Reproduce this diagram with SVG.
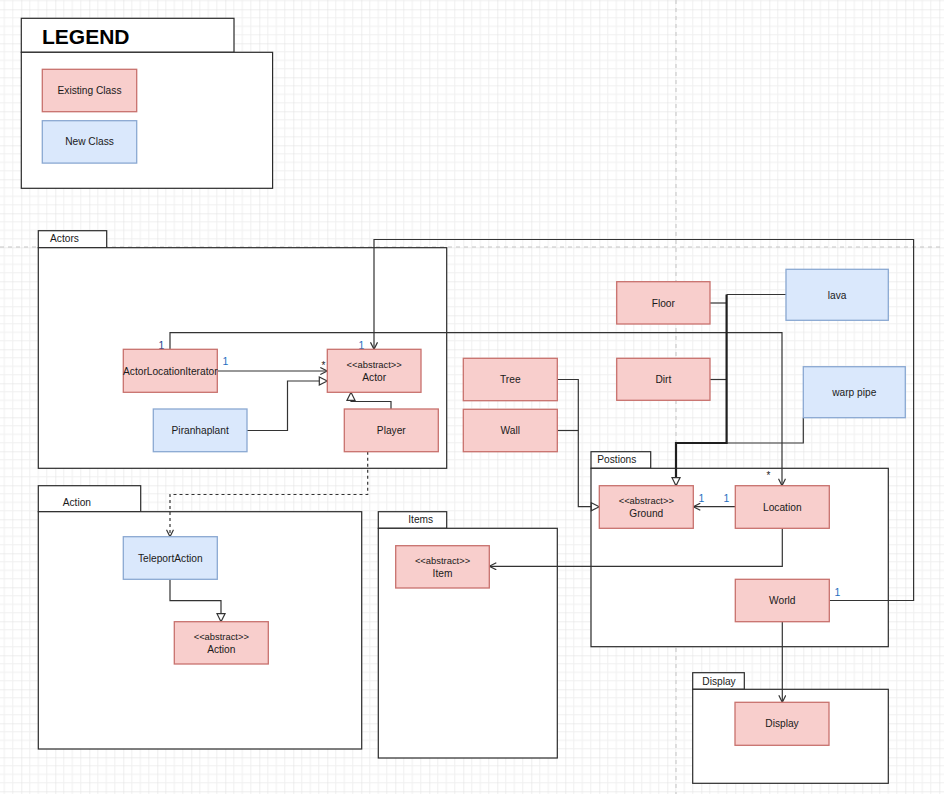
<svg xmlns="http://www.w3.org/2000/svg" width="944" height="794" viewBox="0 0 944 794">
  <style>
    text { font-family: "Liberation Sans", Arial, sans-serif; font-size: 10.2px; fill: #1a1a1a; }
    .c { text-anchor: middle; }
    .pkg { fill: #ffffff; stroke: #2b2b2b; stroke-width: 1.2; }
    .old { fill: #f8cecc; stroke: #c8716d; stroke-width: 1.3; }
    .new { fill: #dae8fc; stroke: #8aa8d2; stroke-width: 1.3; }
    .edge { fill: none; stroke: #333333; stroke-width: 1.2; }
    .thick { fill: none; stroke: #1f1f1f; stroke-width: 2.2; }
    .dash { stroke-dasharray: 3 3; }
    .mult { font-size: 10.5px; fill: #1f6fbf; }
    .star { font-size: 10px; fill: #222222; }
  </style>
  <defs>
    <pattern id="grid" x="21.3" y="9.3" width="34" height="34" patternUnits="userSpaceOnUse">
      <path d="M8.5,0 V34 M17,0 V34 M25.5,0 V34 M0,8.5 H34 M0,17 H34 M0,25.5 H34" stroke="#f0f0f0" stroke-width="1" fill="none"/>
      <path d="M0,0 V34 M0,0 H34" stroke="#dedede" stroke-width="1" fill="none"/>
    </pattern>
    <marker id="open" viewBox="0 0 8 8" refX="7.5" refY="4" markerWidth="8" markerHeight="8" markerUnits="userSpaceOnUse" orient="auto">
      <path d="M0.5,0.5 L7.5,4 L0.5,7.5" fill="none" stroke="#333333" stroke-width="1.2"/>
    </marker>
    <marker id="tri" viewBox="0 0 10 10" refX="9" refY="5" markerWidth="10" markerHeight="10" markerUnits="userSpaceOnUse" orient="auto">
      <path d="M1,1 L9,5 L1,9 Z" fill="#ffffff" stroke="#333333" stroke-width="1.2"/>
    </marker>
  </defs>

  <!-- canvas grid and page breaks -->
  <rect width="944" height="794" fill="#ffffff"/>
  <rect width="944" height="794" fill="url(#grid)"/>
  <path d="M676,0 V794 M0,247 H944" stroke="#c4c4c4" stroke-width="1" stroke-dasharray="4 4" fill="none"/>

  <!-- legend -->
  <g id="legend">
    <rect class="pkg" x="21.3" y="18.3" width="212.7" height="34"/>
    <rect class="pkg" x="21.3" y="52.3" width="251.3" height="136"/>
    <text x="42" y="43.5" style="font-size:21px;font-weight:bold;fill:#000000">LEGEND</text>
    <rect class="old" x="42.3" y="69.3" width="94.4" height="42.4"/>
    <text class="c" x="89.5" y="94">Existing Class</text>
    <rect class="new" x="42.3" y="120.7" width="94.4" height="42.4"/>
    <text class="c" x="89.5" y="145.3">New Class</text>
  </g>

  <!-- packages -->
  <g id="pkg-actors">
    <rect class="pkg" x="38.3" y="230.7" width="68.4" height="17"/>
    <rect class="pkg" x="38.3" y="247.7" width="408.4" height="220.6"/>
    <text x="50" y="242">Actors</text>
  </g>
  <g id="pkg-action">
    <rect class="pkg" x="38.3" y="485.7" width="102.4" height="26"/>
    <rect class="pkg" x="38.3" y="511.7" width="323.4" height="237.3"/>
    <text x="62.7" y="506">Action</text>
  </g>
  <g id="pkg-items">
    <rect class="pkg" x="378.3" y="511.7" width="68.4" height="16.6"/>
    <rect class="pkg" x="378.3" y="528.3" width="179" height="229.7"/>
    <text class="c" x="420.7" y="523.3">Items</text>
  </g>
  <g id="pkg-positions">
    <rect class="pkg" x="591" y="451.7" width="59.7" height="16.6"/>
    <rect class="pkg" x="591" y="468.3" width="297.3" height="178.4"/>
    <text x="597.3" y="463">Postions</text>
  </g>
  <g id="pkg-display">
    <rect class="pkg" x="692.7" y="672.7" width="51.6" height="16.6"/>
    <rect class="pkg" x="692.7" y="689.3" width="195.6" height="94"/>
    <text x="702.3" y="684.5">Display</text>
  </g>

  <!-- connectors -->
  <g id="connectors">
    <path class="edge" d="M217.3,371 H327.3" marker-end="url(#open)"/>
    <path class="edge" d="M247,430.5 H287.5 V381 H327.3" marker-end="url(#tri)"/>
    <path class="edge" d="M391,409 V401.5 H351 V392.3" marker-end="url(#tri)"/>
    <path class="edge" d="M170,349.3 V332.7 H782 V485.7" marker-end="url(#open)"/>
    <path class="edge" d="M829.3,600.5 H913.6 V239.5 H374 V349.3" marker-end="url(#open)"/>
    <path class="edge dash" d="M367.7,451.7 V494.5 H170 V536.7" marker-end="url(#open)"/>
    <path class="edge" d="M170,579.3 V600.7 H221 V621.7" marker-end="url(#tri)"/>
    <path class="edge" d="M557.3,379.5 H578.3 V506.7 H599.3" marker-end="url(#tri)"/>
    <path class="edge" d="M557.3,430.5 H578.3"/>
    <path class="edge" d="M710,303 H726.6"/>
    <path class="edge" d="M786,294.5 H726.6"/>
    <path class="edge" d="M710,379.5 H726.6"/>
    <path class="edge" d="M803.3,417.7 V443 H726.6"/>
    <path class="thick" d="M726.6,294.5 V443 H676 V485.7" marker-end="url(#tri)"/>
    <path class="edge" d="M735.3,506.7 H693.3" marker-end="url(#open)"/>
    <path class="edge" d="M782.3,528.3 V566.3 H489.3" marker-end="url(#open)"/>
    <path class="edge" d="M782.3,621.7 V702.3" marker-end="url(#open)"/>

    <text class="mult" x="158.5" y="348.5" style="fill:#1d3f8f">1</text>
    <text class="mult" x="222.5" y="365">1</text>
    <text class="star" x="321.5" y="368.5">*</text>
    <text class="mult" x="358.5" y="348.5">1</text>
    <text class="star" x="766.5" y="478.5">*</text>
    <text class="mult" x="698.5" y="502">1</text>
    <text class="mult" x="723.5" y="502">1</text>
    <text class="mult" x="834.5" y="596">1</text>
  </g>

  <!-- classes -->
  <g id="actor-location-iterator">
    <rect class="old" x="123.3" y="349.3" width="94" height="43"/>
    <text class="c" x="170.3" y="374.5">ActorLocationIterator</text>
  </g>
  <g id="actor">
    <rect class="old" x="327.3" y="349.3" width="93.7" height="43"/>
    <text class="c" x="374.2" y="367.5" style="font-size:9.4px">&lt;&lt;abstract&gt;&gt;</text>
    <text class="c" x="374.2" y="381">Actor</text>
  </g>
  <g id="piranhaplant">
    <rect class="new" x="153.3" y="409" width="93.7" height="42.7"/>
    <text class="c" x="200.2" y="434">Piranhaplant</text>
  </g>
  <g id="player">
    <rect class="old" x="344.3" y="409" width="94" height="42.7"/>
    <text class="c" x="391.3" y="434">Player</text>
  </g>
  <g id="teleport-action">
    <rect class="new" x="123.3" y="536.7" width="94" height="42.6"/>
    <text class="c" x="170.3" y="561.5">TeleportAction</text>
  </g>
  <g id="action">
    <rect class="old" x="174.3" y="621.7" width="94" height="42.3"/>
    <text class="c" x="221.3" y="640" style="font-size:9.4px">&lt;&lt;abstract&gt;&gt;</text>
    <text class="c" x="221.3" y="653">Action</text>
  </g>
  <g id="tree">
    <rect class="old" x="463.3" y="358.3" width="94" height="42.4"/>
    <text class="c" x="510.3" y="383">Tree</text>
  </g>
  <g id="wall">
    <rect class="old" x="463.3" y="409.3" width="94" height="42.4"/>
    <text class="c" x="510.3" y="434">Wall</text>
  </g>
  <g id="item">
    <rect class="old" x="395.7" y="545.7" width="93.6" height="42.3"/>
    <text class="c" x="442.5" y="564" style="font-size:9.4px">&lt;&lt;abstract&gt;&gt;</text>
    <text class="c" x="442.5" y="577">Item</text>
  </g>
  <g id="floor">
    <rect class="old" x="616.7" y="281.7" width="93.3" height="42.3"/>
    <text class="c" x="663.3" y="306.5">Floor</text>
  </g>
  <g id="lava">
    <rect class="new" x="786" y="269.3" width="102.3" height="51"/>
    <text class="c" x="837.2" y="298.5">lava</text>
  </g>
  <g id="dirt">
    <rect class="old" x="616.7" y="358.3" width="93.3" height="42"/>
    <text class="c" x="663.3" y="383">Dirt</text>
  </g>
  <g id="warp-pipe">
    <rect class="new" x="803.3" y="366.7" width="102" height="51"/>
    <text class="c" x="854.3" y="395.5">warp pipe</text>
  </g>
  <g id="ground">
    <rect class="old" x="599.3" y="485.7" width="94" height="42.6"/>
    <text class="c" x="646.3" y="504" style="font-size:9.4px">&lt;&lt;abstract&gt;&gt;</text>
    <text class="c" x="646.3" y="517">Ground</text>
  </g>
  <g id="location">
    <rect class="old" x="735.3" y="485.7" width="94" height="42.6"/>
    <text class="c" x="782.3" y="510.5">Location</text>
  </g>
  <g id="world">
    <rect class="old" x="735.3" y="579.3" width="94" height="42.4"/>
    <text class="c" x="782.3" y="604">World</text>
  </g>
  <g id="display">
    <rect class="old" x="735" y="702.3" width="94" height="43"/>
    <text class="c" x="782" y="727">Display</text>
  </g>
</svg>
